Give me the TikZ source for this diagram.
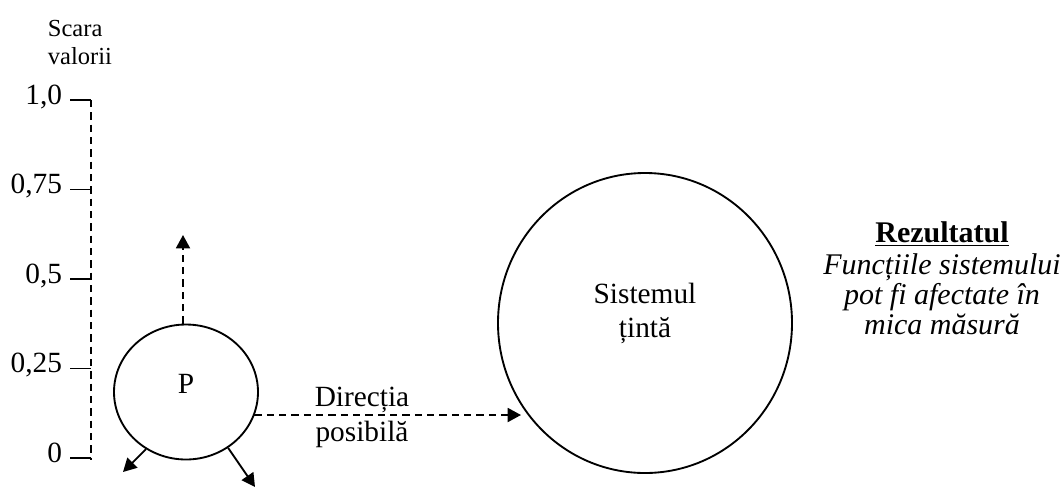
\documentclass[tikz,border=0pt]{standalone}
\usepackage{fontspec}
\setmainfont{Liberation Serif}
\usetikzlibrary{arrows.meta,shapes.geometric}

\begin{document}
\begin{tikzpicture}[x=0.75pt, y=-0.75pt, line width=1.4pt,
		dashline/.style={dash pattern=on 5.5pt off 3.75pt},
		tip/.style={-{Triangle[length=10pt,width=10.5pt]}},
		every node/.style={inner sep=0pt, font=\fontsize{22}{26}\selectfont}]
		\useasboundingbox (0,0) rectangle (1063,490);
		%%%%% START %%%%%
		
		\node[anchor=north west, align=left, font=\fontsize{18.4}{21.5}\selectfont] (scara) at (47,19) {Scara\\valorii};
		
		\coordinate (axtop) at (91,100);
		\coordinate (axbot) at (91,460);
		\draw[dashline] (axtop) -- (axbot);
		\foreach \yy/\val [count=\i] in {100/{1,0}, 189.5/{0,75}, 279/{0,5}, 368.5/{0,25}, 458/0}{
			\draw (70,\yy) -- (91,\yy);
			\node[anchor=base east] (val\i) at (63,\yy+4) {\val};
		}
		
		\node[draw, ellipse, minimum width=108pt, minimum height=101.25pt] (P) at (186,392) {};
		\node (Ptext) at (186,384) {P};
		
		\node[draw, ellipse, minimum width=220.5pt, minimum height=225pt] (S) at (645,323) {};
		\node[align=center, font=\fontsize{22}{25.5}\selectfont] (Stext) at (645,313) {Sistemul\\țintă};
		
		\coordinate (upTip) at (183,235);
		\draw[dashline, tip] (P.north -| upTip) -- (upTip);
		
		\coordinate (dirTip) at (521,415);
		\draw[dashline, tip] (P.-19 |- dirTip) -- (dirTip);
		\node[anchor=north, align=center] (dir) at (362,386) {Direcția\\posibilă};
		
		\coordinate (swTip) at (123,472);
		\coordinate (seTip) at (255,487);
		\draw[tip] (P.235) -- (swTip);
		\draw[tip] (P.307) -- (seTip);
		
		\node[anchor=north, align=center, font=\fontsize{22.5}{22.5}\selectfont] (result) at (942,221)
			{\underline{\textbf{Rezultatul}}\\[1pt]\textit{Funcțiile sistemului}\\\textit{pot fi afectate în}\\\textit{mica măsură}};
		
		%%%%% END %%%%%
	\end{tikzpicture}
\end{document}
